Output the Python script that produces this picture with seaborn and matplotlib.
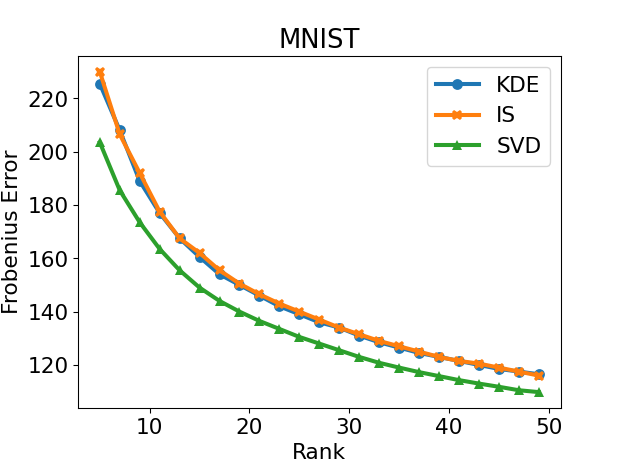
import matplotlib
matplotlib.use("Agg")
import matplotlib.pyplot as plt
import pandas as pd
import seaborn as sb

ranks = list(range(5, 50, 2))
kde = [225.5, 208, 189, 177, 167.5, 160.5, 154, 150, 146, 142, 139, 136, 134,
       131, 128.5, 126.5, 124.5, 123, 121.5, 120, 118.5, 117.5, 116.5]
imp = [230, 206.5, 192, 177.5, 167.5, 162, 155.5, 150.5, 146.5, 143, 140, 137, 134,
       131.5, 129, 127, 125, 123, 121.5, 120.5, 119, 117.5, 116]
svd = [203.5, 185.5, 173.5, 163.5, 155.5, 149, 144, 140, 136.5, 133.5, 130.5, 128, 125.5,
       123, 120.8, 119, 117.3, 115.8, 114.3, 113, 111.8, 110.5, 109.8]

df = pd.DataFrame({
    "Rank": ranks * 3,
    "Error": kde + imp + svd,
    "Method": ["KDE"] * len(ranks) + ["IS"] * len(ranks) + ["SVD"] * len(ranks),
})

plt.rcParams["font.size"] = 16
fig, ax = plt.subplots(figsize=(6.4, 4.8), dpi=97.35)
fig.subplots_adjust(bottom=0.126)
sb.lineplot(data=df, x="Rank", y="Error", hue="Method", style="Method",
            markers=["o", "X", "^"], dashes=False, linewidth=3, markersize=8,
            markeredgewidth=0, palette=["#1f77b4", "#ff7f0e", "#2ca02c"], ax=ax)
ax.set_title("MNIST")
ax.set_xlabel("Rank")
ax.set_ylabel("Frobenius Error")
ax.legend(title=None, fontsize=16)
fig.savefig("out.png")
